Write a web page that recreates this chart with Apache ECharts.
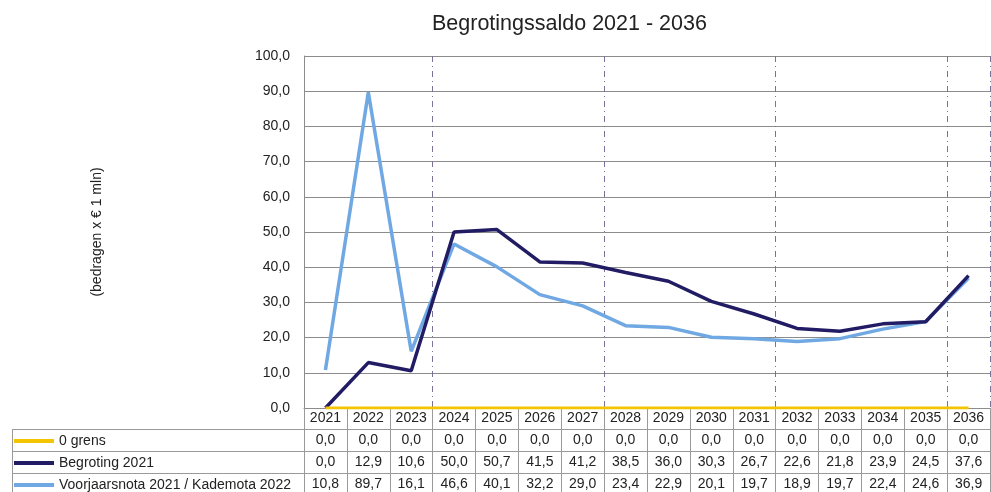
<!DOCTYPE html>
<html><head><meta charset="utf-8">
<script src="https://cdn.jsdelivr.net/npm/echarts@6/dist/echarts.min.js"></script>
<style>html,body{margin:0;padding:0;background:#fff}#c{width:991px;height:492px}</style>
</head><body><div id="c"></div>
<script>
const years = ['2021','2022','2023','2024','2025','2026','2027','2028','2029','2030','2031','2032','2033','2034','2035','2036'];
const nulGrens = [0,0,0,0,0,0,0,0,0,0,0,0,0,0,0,0];
const begroting2021 = [0.0,12.9,10.6,50.0,50.7,41.5,41.2,38.5,36.0,30.3,26.7,22.6,21.8,23.9,24.5,37.6];
const voorjaarsnota = [10.8,89.7,16.1,46.6,40.1,32.2,29.0,23.4,22.9,20.1,19.7,18.9,19.7,22.4,24.6,36.9];
const seriesNames = ['0 grens','Begroting 2021','Voorjaarsnota 2021 / Kademota 2022'];
const seriesData = [nulGrens, begroting2021, voorjaarsnota];
const colors = ['#F5C400','#221C64','#6FA8E2'];
const dashedAfter = [3,7,11,15];

const fmt = v => v.toFixed(1).replace('.', ',');
const FONT = 'Liberation Sans, Arial, sans-serif';
const chart = echarts.init(document.getElementById('c'));

const GL = 304, GT = 56, GH = 352, GR = 1;
const ROW = 22;

const xAxes = [{
  type:'category', data: years, gridIndex:0, position:'bottom', boundaryGap:true,
  axisLine:{show:true, lineStyle:{color:'#8c8c8c', width:1}},
  axisTick:{show:true, length:86, interval:0, lineStyle:{color:'#9a9a9a'}},
  axisLabel:{margin:3, fontSize:14, color:'#222', fontFamily:FONT, interval:0},
  splitLine:{show:true, interval:(i)=>dashedAfter.includes(i), lineStyle:{color:'#7d7098', type:[6,4,1,4], width:1}}
}];
seriesData.forEach((arr, k) => {
  xAxes.push({
    type:'category', data: years, gridIndex:0, position:'bottom', offset: ROW*(k+1),
    axisLine:{show:false}, axisTick:{show:false}, splitLine:{show:false},
    axisLabel:{margin:3, fontSize:14, color:'#222', fontFamily:FONT, interval:0,
      formatter:(v, i) => fmt(arr[i])}
  });
});

const tableLines = [];
[1,2,3].forEach(r => {
  const y = GT+GH+ROW*r - 0.5;
  tableLines.push({type:'line', shape:{x1:12, y1:y, x2:991-GR, y2:y}, style:{stroke:'#9a9a9a', lineWidth:1}, silent:true});
});
tableLines.push({type:'line', shape:{x1:12.5, y1:GT+GH+ROW-0.5, x2:12.5, y2:492}, style:{stroke:'#9a9a9a', lineWidth:1}, silent:true});

const legends = seriesNames.map((n, i) => ({
  data:[n], left:14, top: GT+GH+ROW*(i+1)+4, orient:'horizontal', padding:0,
  icon:'rect', itemWidth:40, itemHeight:4, selectedMode:false,
  textStyle:{fontSize:14, color:'#222', fontFamily:FONT}
}));

chart.setOption({
  animation:false,
  title:{text:'Begrotingssaldo 2021 - 2036', left:427, top:8,
    textStyle:{fontSize:21.5, fontWeight:'normal', color:'#222', fontFamily:FONT}},
  legend: legends,
  grid:{left:GL, right:GR, top:GT, height:GH, containLabel:false},
  xAxis: xAxes,
  yAxis:{type:'value', min:0, max:100, interval:10,
    name:'(bedragen x € 1 mln)', nameLocation:'middle', nameGap:200, nameRotate:90,
    nameTextStyle:{fontSize:14, color:'#222', fontFamily:FONT},
    axisLine:{show:true, lineStyle:{color:'#8c8c8c'}}, axisTick:{show:false},
    axisLabel:{formatter: v => fmt(v), fontSize:14, color:'#222', fontFamily:FONT, margin:14},
    splitLine:{show:true, lineStyle:{color:'#8c8c8c', width:1}}
  },
  graphic: tableLines,
  series: [
    {name:seriesNames[0], type:'line', data:nulGrens, showSymbol:false, itemStyle:{color:colors[0]}, lineStyle:{width:3, color:colors[0]}, z:5},
    {name:seriesNames[2], type:'line', data:voorjaarsnota, showSymbol:false, itemStyle:{color:colors[2]}, lineStyle:{width:3.5, color:colors[2]}, z:3},
    {name:seriesNames[1], type:'line', data:begroting2021, showSymbol:false, itemStyle:{color:colors[1]}, lineStyle:{width:3.5, color:colors[1]}, z:4}
  ]
});
</script></body></html>
